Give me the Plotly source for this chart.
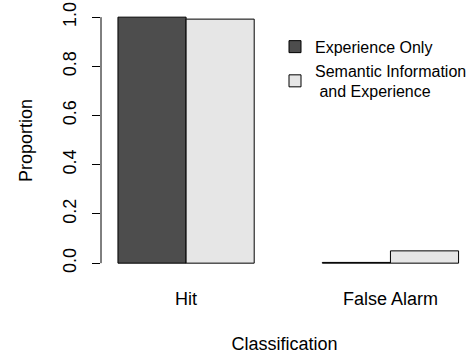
import plotly.graph_objects as go

categories = ["Hit", "False Alarm"]
series_names = ["Experience Only", "Semantic Information<br>\u00a0and Experience"]
experience_only = [1.0, 0.003]
semantic_and_experience = [0.992, 0.05]
y_tick_vals = [0.0, 0.2, 0.4, 0.6, 0.8, 1.0]
y_tick_text = ["0.0", "0.2", "0.4", "0.6", "0.8", "1.0"]

FONT = "Liberation Sans, Arial, Helvetica, sans-serif"

fig = go.Figure()
fig.add_trace(go.Bar(x=categories, y=experience_only, name=series_names[0],
                     marker=dict(color="#4D4D4D", line=dict(color="black", width=1))))
fig.add_trace(go.Bar(x=categories, y=semantic_and_experience, name=series_names[1],
                     marker=dict(color="#E6E6E6", line=dict(color="black", width=1))))

fig.update_layout(
    width=472, height=356,
    margin=dict(l=101, r=0, t=8, b=83),
    paper_bgcolor="white", plot_bgcolor="white",
    font=dict(family=FONT, size=18, color="black"),
    barmode="group", bargap=1/3, bargroupgap=0,
    showlegend=True,
    legend=dict(x=(297 - 20 - 101) / 371, y=0.918, xanchor="left", yanchor="top",
                font=dict(size=16), bgcolor="rgba(0,0,0,0)", traceorder="normal",
                tracegroupgap=0),
    xaxis=dict(range=[-0.4163, 1.3795], showgrid=False, zeroline=False, showline=False,
               ticks="", tickfont=dict(size=18), ticklabelstandoff=13,
               title=dict(text="Classification", font=dict(size=18), standoff=29),
               automargin=False),
    yaxis=dict(range=[-0.0400, 1.0372], tickvals=y_tick_vals, ticktext=y_tick_text,
               tickangle=-90, ticks="outside", ticklen=8, tickcolor="black", tickwidth=1,
               ticklabelstandoff=9,
               showgrid=False, zeroline=False, showline=False, tickfont=dict(size=18),
               title=dict(text="Proportion", font=dict(size=18), standoff=22),
               automargin=False),
)

fig.add_shape(type="line", xref="paper", yref="y", x0=0, x1=0, y0=0, y1=1,
              line=dict(color="black", width=1))

fig.write_html("out.html", config={"displayModeBar": False},
               post_script="document.body.style.margin='0px';")
